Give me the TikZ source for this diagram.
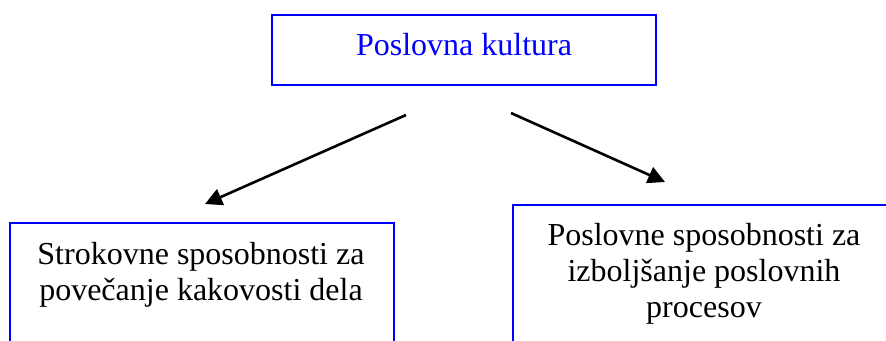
\documentclass[tikz,border=0pt]{standalone}
\usepackage{fontspec}
\setmainfont{Liberation Serif}
\usetikzlibrary{arrows.meta}
\definecolor{boxblue}{RGB}{0,0,255}
\tikzset{
  topbox/.style={draw=boxblue, line width=2.4pt, anchor=north west, inner sep=0pt, minimum width=384pt, minimum height=70pt},
  subbox/.style={draw=boxblue, line width=1.8pt, anchor=north west, inner sep=0pt},
  boxtext/.style={inner sep=0pt, align=center, font=\fontsize{32}{36}\selectfont},
  arr/.style={line width=2.6pt, -{Triangle[length=17pt,width=17pt]}}
}
\begin{document}
\begin{tikzpicture}[x=1pt,y=-1pt]
\useasboundingbox (0,0) rectangle (886,340);
\clip (0,0) rectangle (886,340);
\node[topbox] (top) at (271,14) {};
\node[boxtext, text=boxblue, anchor=base] (toptext) at (464,55) {Poslovna kultura};
\node[subbox, minimum width=384pt, minimum height=160pt] (left) at (9,222) {};
\node[boxtext, anchor=north] (lefttext) at (201,242) {Strokovne sposobnosti za\\povečanje kakovosti dela};
\node[subbox, minimum width=384pt, minimum height=170pt] (right) at (512,204) {};
\node[boxtext, anchor=north] (righttext) at (704,223) {Poslovne sposobnosti za\\izboljšanje poslovnih\\procesov};
\coordinate (a1s) at (406,115);
\coordinate (a1e) at (205,204);
\coordinate (a2s) at (511,113);
\coordinate (a2e) at (665,182);
\draw[arr] (a1s) -- (a1e);
\draw[arr] (a2s) -- (a2e);
\end{tikzpicture}
\end{document}
